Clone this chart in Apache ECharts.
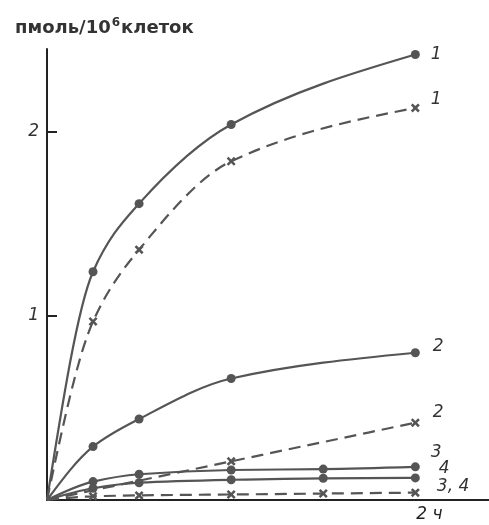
<!DOCTYPE html>
<html>
<head>
<meta charset="utf-8">
<script src="https://cdn.jsdelivr.net/npm/echarts@6/dist/echarts.min.js"></script>
<style>html,body{margin:0;padding:0;background:#fff;}#c{width:489px;height:525px;}</style>
</head>
<body>
<div id="c"></div>
<script>
// time, hours
const x1 = [0, 0.25, 0.5, 1, 2];
const y1Solid = [0, 1.24, 1.61, 2.04, 2.42];
const y1Dashed = [0, 0.97, 1.36, 1.84, 2.13];
const y2Solid = [0, 0.29, 0.44, 0.66, 0.80];
const x2Dashed = [0, 1, 2];
const y2Dashed = [0, 0.21, 0.42];
const x34 = [0, 0.25, 0.5, 1, 1.5, 2];
const y3Solid = [0, 0.10, 0.14, 0.163, 0.168, 0.18];
const y4Solid = [0, 0.064, 0.094, 0.11, 0.118, 0.12];
const y34Dashed = [0, 0.02, 0.025, 0.03, 0.035, 0.04];
const yTicks = ['1', '2'];
const xTickLabel = '2 ч';
const yName = ['пмоль/10', '6', 'клеток'];

const LINE = '#555';
const CROSS = 'path://M2,0L5,3L8,0L10,2L7,5L10,8L8,10L5,7L2,10L0,8L3,5L0,2Z';
const LABEL_STYLE = { fontSize: 17, fontStyle: 'italic', fontFamily: 'DejaVu Sans', color: '#333' };

// shape-preserving (Fritsch-Butland) cubic path through pixel points
function smoothPath(P) {
  const n = P.length;
  const t = new Array(n).fill(0);
  const s = [], h = [];
  for (let i = 0; i < n - 1; i++) {
    h.push(P[i + 1][0] - P[i][0]);
    s.push((P[i + 1][1] - P[i][1]) / h[i]);
  }
  for (let i = 1; i < n - 1; i++) {
    const s0 = s[i - 1], s1 = s[i], h0 = h[i - 1], h1 = h[i];
    if (s0 * s1 <= 0) { t[i] = 0; continue; }
    t[i] = 3 * (h0 + h1) / ((2 * h1 + h0) / s0 + (h1 + 2 * h0) / s1);
  }
  if (n > 2) {
    t[0] = (3 * s[0] - t[1]) / 2;
    t[n - 1] = (3 * s[n - 2] - t[n - 2]) / 2;
  } else {
    t[0] = t[1] = s[0];
  }
  let d = 'M' + P[0][0] + ' ' + P[0][1];
  for (let i = 0; i < n - 1; i++) {
    const dx = h[i] / 3;
    d += ' C' + (P[i][0] + dx) + ' ' + (P[i][1] + dx * t[i]) + ' ' +
      (P[i + 1][0] - dx) + ' ' + (P[i + 1][1] - dx * t[i + 1]) + ' ' +
      P[i + 1][0] + ' ' + P[i + 1][1];
  }
  return d;
}

function curve(xs, ys, dashed) {
  return {
    type: 'custom',
    coordinateSystem: 'cartesian2d',
    data: xs.map((x, i) => [x, ys[i]]),
    silent: true,
    z: dashed ? 2 : 3,
    renderItem: function (params, api) {
      if (params.dataIndex !== 0) return null;
      const P = xs.map((x, i) => api.coord([x, ys[i]]));
      return {
        type: 'path',
        shape: { pathData: smoothPath(P) },
        style: { fill: 'none', stroke: LINE, lineWidth: 2.2, lineDash: dashed ? [12, 7] : null }
      };
    }
  };
}

function marks(xs, ys, dashed, label, offset) {
  const n = xs.length;
  return {
    type: 'scatter',
    symbol: dashed ? CROSS : 'circle',
    symbolSize: 9,
    itemStyle: { color: LINE, opacity: 1 },
    z: 4,
    data: xs.slice(1).map((x, i) => {
      const d = { value: [x, ys[i + 1]] };
      if (i === n - 2) {
        d.label = Object.assign({ show: true, position: 'right', distance: 5, offset: offset, formatter: label }, LABEL_STYLE);
      }
      return d;
    })
  };
}

const option = {
  animation: false,
  title: {
    text: '{a|' + yName[0] + '}{s|' + yName[1] + '}{a|' + yName[2] + '}',
    left: 10,
    top: 12,
    textStyle: {
      rich: {
        a: { fontSize: 18, fontFamily: 'DejaVu Sans', color: '#333', fontWeight: 'bold', verticalAlign: 'bottom' },
        s: { fontSize: 12, fontFamily: 'DejaVu Sans', color: '#333', fontWeight: 'bold', verticalAlign: 'top', padding: [0, 1, 8, 1] }
      }
    }
  },
  grid: { left: 47, width: 442, top: 49, bottom: 25, containLabel: false },
  xAxis: {
    type: 'value',
    min: 0,
    max: 2.4,
    interval: 1,
    axisLine: { show: true, lineStyle: { color: '#222', width: 2 } },
    axisTick: { show: false },
    splitLine: { show: false },
    axisLabel: {
      showMaxLabel: false,
      formatter: v => (v === 2 ? xTickLabel : ''),
      fontSize: 17,
      fontStyle: 'italic',
      fontFamily: 'DejaVu Sans',
      color: '#222',
      margin: 6,
      padding: [0, 0, 0, 28]
    }
  },
  yAxis: {
    type: 'value',
    min: 0,
    max: 2.45,
    interval: 1,
    axisLine: { show: true, lineStyle: { color: '#222', width: 2 } },
    axisTick: { show: true, inside: true, length: 10, lineStyle: { color: '#222', width: 2 } },
    splitLine: { show: false },
    axisLabel: {
      showMaxLabel: false,
      formatter: v => (v >= 1 && v <= 2 ? yTicks[Math.round(v) - 1] : ''),
      fontSize: 17,
      fontStyle: 'italic',
      fontFamily: 'DejaVu Sans',
      color: '#333',
      margin: 8
    }
  },
  series: [
    curve(x1, y1Solid, false), marks(x1, y1Solid, false, '1', [6, 0]),
    curve(x1, y1Dashed, true), marks(x1, y1Dashed, true, '1', [6, -8]),
    curve(x1, y2Solid, false), marks(x1, y2Solid, false, '2', [8, -6]),
    curve(x2Dashed, y2Dashed, true), marks(x2Dashed, y2Dashed, true, '2', [8, -10]),
    curve(x34, y3Solid, false), marks(x34, y3Solid, false, '3', [6, -14]),
    curve(x34, y4Solid, false), marks(x34, y4Solid, false, '4', [14, -9]),
    curve(x34, y34Dashed, true), marks(x34, y34Dashed, true, '3, 4', [12, -6])
  ]
};

echarts.init(document.getElementById('c'), null, { renderer: 'canvas' }).setOption(option);
</script>
</body>
</html>
